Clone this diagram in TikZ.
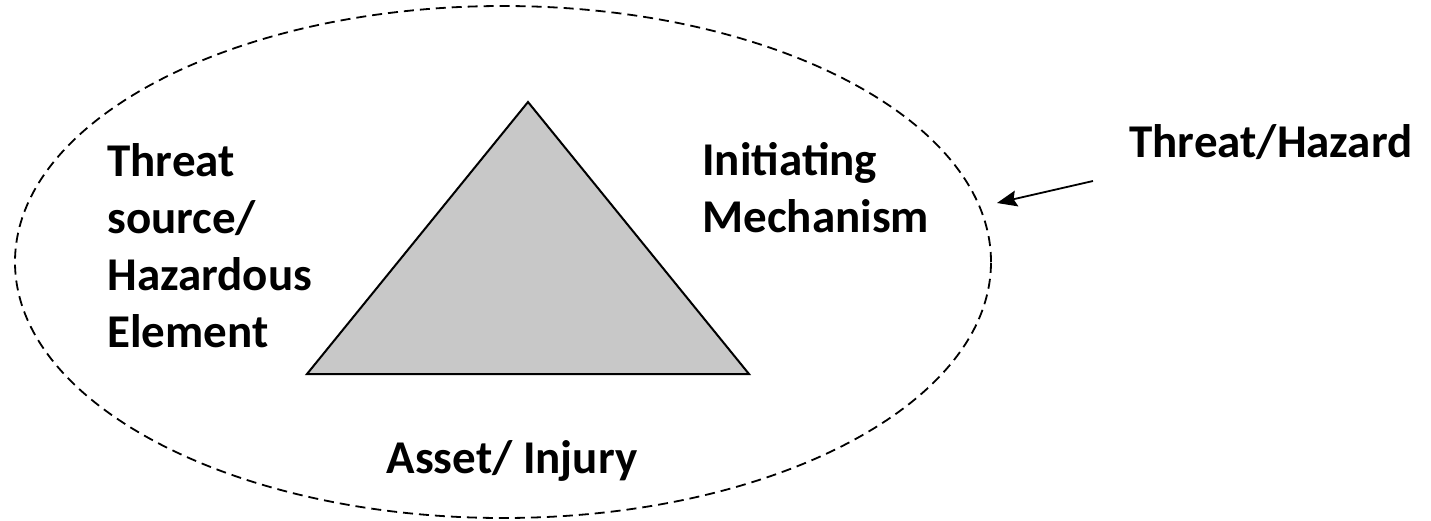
\documentclass[tikz,border=0pt]{standalone}
\usepackage{fontspec}
\setmainfont{Carlito}
\usetikzlibrary{arrows.meta,shapes.geometric}
\definecolor{triGray}{HTML}{C8C8C8}
\begin{document}
\begin{tikzpicture}[x=0.5pt,y=-0.5pt,
  txt/.style={font=\bfseries\fontsize{23.5}{28.5}\selectfont, inner sep=0pt, align=left},
  zoneline/.style={draw, dash pattern=on 5pt off 3pt, line width=0.9pt},
  triline/.style={line width=1pt, line join=miter}]
\useasboundingbox (0,0) rectangle (1431,520);
\node[ellipse, zoneline, minimum width=488pt, minimum height=256pt] (zone) at (503,262) {};
\coordinate (apex) at (528,102);
\coordinate (left) at (307,374);
\coordinate (right) at (749,374);
\filldraw[fill=triGray, triline] (apex) -- (left) -- (right) -- cycle;
\node[txt, anchor=base west] (source) at (107,347) {Threat\\source/\\Hazardous\\Element};
\node[txt, anchor=base west] (mech) at (702,232) {Initiating\\Mechanism};
\node[txt, anchor=base] (asset) at (512,473) {Asset/ Injury};
\node[txt, anchor=base west] (hazard) at (1129,157) {Threat/Hazard};
\coordinate (tail) at (1093,181);
\coordinate (tip) at (997,203);
\draw[line width=0.9pt, -{Stealth[length=10pt, width=8pt, inset=1.5pt]}] (tail) -- (tip);
\end{tikzpicture}
\end{document}
